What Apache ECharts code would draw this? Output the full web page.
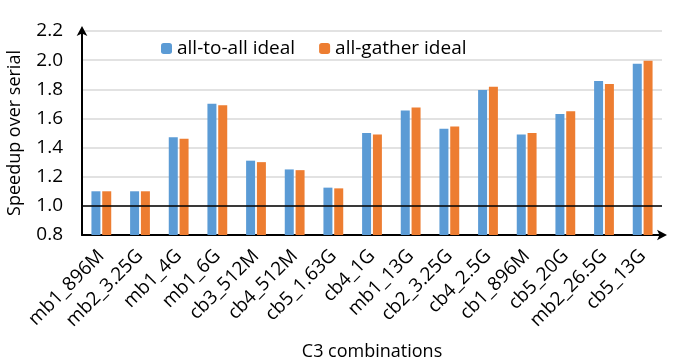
<!DOCTYPE html>
<html>
<head>
<meta charset="utf-8">
<script src="https://cdn.jsdelivr.net/npm/echarts@6/dist/echarts.min.js"></script>
<style>
  html, body { margin: 0; padding: 0; background: #fff; }
  #chart { width: 681px; height: 364px; }
</style>
</head>
<body>
<div id="chart"></div>
<script>
const categories = ["mb1_896M", "mb2_3.25G", "mb1_4G", "mb1_6G", "cb3_512M", "cb4_512M", "cb5_1.63G", "cb4_1G",
    "mb1_13G", "cb2_3.25G", "cb4_2.5G", "cb1_896M", "cb5_20G", "mb2_26.5G", "cb5_13G"];
const allToAll = [1.10, 1.10, 1.47, 1.70, 1.31, 1.25, 1.125, 1.50, 1.655, 1.53, 1.795, 1.49, 1.63, 1.857, 1.975];
const allGather = [1.10, 1.10, 1.46, 1.69, 1.30, 1.245, 1.12, 1.49, 1.675, 1.545, 1.818, 1.50, 1.65, 1.837, 1.995];
const baseline = 1.0;

const font = "'Open Sans', sans-serif";
const chart = echarts.init(document.getElementById("chart"));

const option = {
    backgroundColor: "#fff",
    textStyle: { fontFamily: font },
    legend: {
        left: 156,
        top: 34,
        itemWidth: 11,
        itemHeight: 11,
        itemGap: 24,
        textStyle: { fontSize: 19, color: "#000", fontFamily: font },
        data: ["all-to-all ideal", "all-gather ideal"]
    },
    grid: {
        left: 82,
        right: 19,
        top: 31,
        bottom: 129,
        outerBoundsMode: "none"
    },
    xAxis: {
        type: "category",
        data: categories,
        name: "C3 combinations",
        nameLocation: "middle",
        nameGap: 108,
        nameTextStyle: { fontSize: 18, color: "#000", fontFamily: font },
        axisLine: {
            lineStyle: { color: "#000", width: 2 },
            symbol: ["none", "arrow"],
            symbolSize: [8, 10],
            symbolOffset: [0, 5]
        },
        axisTick: { show: false },
        axisLabel: {
            rotate: 45,
            interval: 0,
            fontSize: 19,
            color: "#000",
            margin: 18,
            fontFamily: font
        }
    },
    yAxis: {
        type: "value",
        min: 0.8,
        max: 2.2,
        interval: 0.2,
        name: "Speedup over serial",
        nameLocation: "middle",
        nameGap: 58,
        nameTextStyle: { fontSize: 18, color: "#000", fontFamily: font },
        axisLine: {
            show: true,
            lineStyle: { color: "#000", width: 2 },
            symbol: ["none", "arrow"],
            symbolSize: [8, 10],
            symbolOffset: [0, 5]
        },
        axisTick: { show: false },
        axisLabel: {
            fontSize: 19,
            color: "#000",
            margin: 19,
            formatter: v => v.toFixed(1),
            fontFamily: font
        },
        splitLine: { lineStyle: { color: "#d9d9d9", width: 1.5 } }
    },
    series: [{
        name: "all-to-all ideal",
        type: "bar",
        barWidth: 9,
        barGap: "20%",
        itemStyle: { color: "#5b9bd5" },
        data: allToAll,
        markLine: {
            silent: true,
            symbol: "none",
            label: { show: false },
            lineStyle: { color: "#000", width: 1.5, type: "solid" },
            data: [{ yAxis: baseline }]
        }
    }, {
        name: "all-gather ideal",
        type: "bar",
        barWidth: 9,
        itemStyle: { color: "#ed7d31" },
        data: allGather
    }]
};
chart.setOption(option);
</script>
</body>
</html>
